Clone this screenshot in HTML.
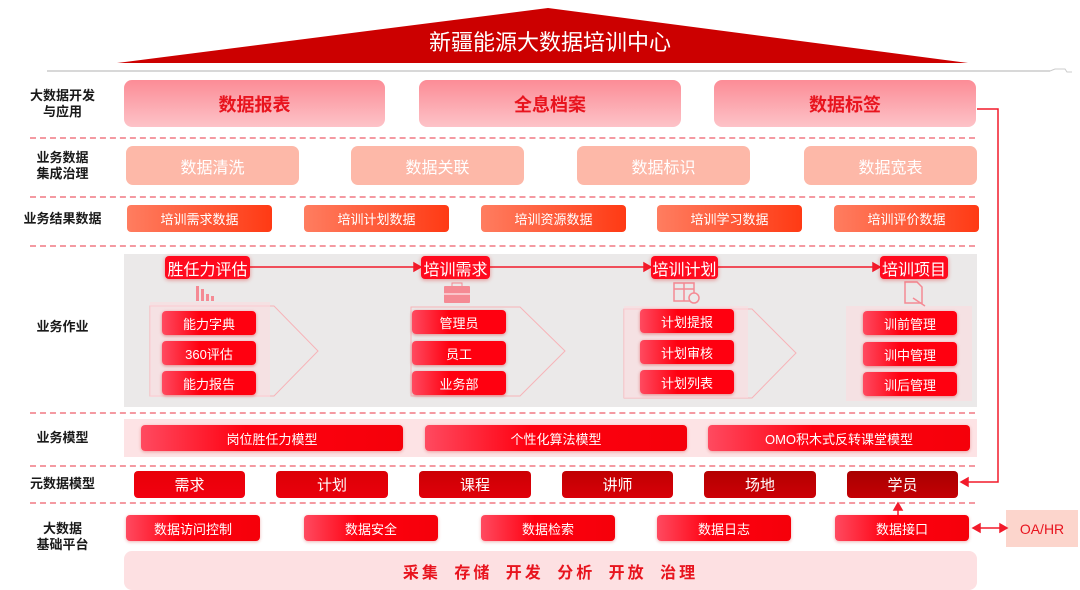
<!DOCTYPE html>
<html><head><meta charset="utf-8"><style>
*{margin:0;padding:0;box-sizing:border-box}
body{width:1080px;height:590px;background:#fff;position:relative;overflow:hidden;font-family:"Liberation Sans","Noto Sans CJK SC",sans-serif}
.a{position:absolute;display:flex;align-items:center;justify-content:center;text-align:center}
.lbl{position:absolute;left:10px;width:105px;font-size:13px;font-weight:bold;color:#1a1a1a;line-height:16px;display:flex;align-items:center;justify-content:center;text-align:center}
.d{position:absolute;left:30px;width:945px;border-top:2px dashed #f49aa2}
.r1{background:linear-gradient(#fc8c96,#fdc3c8);border-radius:8px;color:#e8141e;font-size:18px;font-weight:bold}
.r2{background:#fdb8a8;border-radius:7px;color:#fff;font-size:16px}
.r3{background:linear-gradient(90deg,#ff7d60,#ff3a14);border-radius:4px;color:#fff;font-size:13px}
.rb{background:linear-gradient(90deg,#ff4a60,#ff0010 40%,#f5000a);border-radius:4px;color:#fff;font-size:13px;box-shadow:0 1px 3px rgba(200,0,0,.3)}
.hd{background:#ff0a1e;border-radius:4px;color:#fff;font-size:16px;box-shadow:0 1px 4px rgba(220,0,0,.4)}
.sb{background:linear-gradient(90deg,#ff4a60,#ff0010 40%);border-radius:4px;color:#fff;font-size:13px;box-shadow:0 1px 3px rgba(200,0,0,.4)}
.md{border-radius:4px;color:#fff;font-size:15px}
</style></head><body>
<svg width="1080" height="590" style="position:absolute;left:0;top:0">
<polygon points="117,63 548,8 968,63" fill="#cc0000"/>
<line x1="47" y1="71" x2="1050" y2="71" stroke="#ccc" stroke-width="1.5"/>
<polyline points="1050,71 1055,69 1065,69 1067,72 1072,72" stroke="#ccc" fill="none"/>
<rect x="124" y="254" width="853" height="153" fill="#ebe9e9"/>
<rect x="124" y="419" width="853" height="38" fill="#fde3e5"/>
<rect x="124" y="551" width="853" height="39" rx="8" fill="#fde0e2"/>
<rect x="1006" y="510" width="72" height="37" fill="#fcd5cc"/>
<g fill="none" stroke="#f7b3b8" stroke-width="1">
<polygon points="150,306 274,306 318,351 274,396 150,396"/>
<polygon points="411,307 520,307 565,351 520,396 411,396"/>
<polygon points="624,309 752,309 796,353 752,398 624,398"/>
</g>
<rect x="150" y="302" width="120" height="95" fill="#fcdcdf" opacity=".6"/>
<rect x="624" y="306" width="124" height="92" fill="#fcdcdf" opacity=".6"/>
<rect x="846" y="306" width="126" height="95" fill="#fcdcdf" opacity=".6"/>
<g stroke="#f21a2a" stroke-width="1.5" fill="#f21a2a">
<line x1="250" y1="267" x2="416" y2="267"/><polygon points="421,267 414,263 414,271"/>
<line x1="490" y1="267" x2="646" y2="267"/><polygon points="651,267 644,263 644,271"/>
<line x1="718" y1="267" x2="875" y2="267"/><polygon points="880,267 873,263 873,271"/>
</g>
<g fill="#f58a94">
<rect x="196" y="286" width="3" height="15"/><rect x="201" y="289" width="3" height="12"/><rect x="206" y="294" width="3" height="7"/><rect x="211" y="296" width="3" height="5"/>
<rect x="444" y="286" width="26" height="17" rx="1"/><rect x="452" y="283" width="10" height="4" fill="none" stroke="#f58a94"/>
</g>
<line x1="444" y1="294" x2="470" y2="294" stroke="#fff"/>
<g fill="none" stroke="#f58a94" stroke-width="1.5">
<rect x="674" y="283" width="20" height="18"/><line x1="674" y1="289" x2="694" y2="289"/><line x1="684" y1="283" x2="684" y2="301"/><circle cx="694" cy="298" r="5" fill="#ebe9e9"/>
<path d="M905 282 h12 l5 5 v16 h-17 z"/><line x1="913" y1="298" x2="925" y2="306"/>
</g>
<g stroke="#f21a2a" stroke-width="1.5" fill="#f21a2a">
<polyline points="977,109 998,109 998,482 966,482" fill="none"/><polygon points="961,482 968,478 968,486"/>
<line x1="898" y1="515" x2="898" y2="508"/><polygon points="898,503 894,510 902,510"/>
<line x1="978" y1="528" x2="1003" y2="528"/><polygon points="973,528 980,524 980,532"/><polygon points="1007,528 1000,524 1000,532"/>
</g>
</svg>
<div class="a" style="left:380px;top:26px;width:340px;height:30px;color:#fff;font-size:22px">新疆能源大数据培训中心</div>

<div class="lbl" style="top:88px;height:32px">大数据开发<br>与应用</div>
<div class="lbl" style="top:150px;height:32px">业务数据<br>集成治理</div>
<div class="lbl" style="top:210px;height:18px">业务结果数据</div>
<div class="lbl" style="top:318px;height:18px">业务作业</div>
<div class="lbl" style="top:429px;height:18px">业务模型</div>
<div class="lbl" style="top:475px;height:18px">元数据模型</div>
<div class="lbl" style="top:520px;height:34px">大数据<br>基础平台</div>

<div class="d" style="top:137px"></div><div class="d" style="top:196px"></div><div class="d" style="top:245px"></div>
<div class="d" style="top:412px"></div><div class="d" style="top:465px"></div><div class="d" style="top:502px"></div>

<div class="a r1" style="left:124px;top:80px;width:261px;height:47px">数据报表</div>
<div class="a r1" style="left:419px;top:80px;width:262px;height:47px">全息档案</div>
<div class="a r1" style="left:714px;top:80px;width:262px;height:47px">数据标签</div>

<div class="a r2" style="left:126px;top:146px;width:173px;height:39px">数据清洗</div>
<div class="a r2" style="left:351px;top:146px;width:173px;height:39px">数据关联</div>
<div class="a r2" style="left:577px;top:146px;width:173px;height:39px">数据标识</div>
<div class="a r2" style="left:804px;top:146px;width:173px;height:39px">数据宽表</div>

<div class="a r3" style="left:127px;top:205px;width:145px;height:27px">培训需求数据</div>
<div class="a r3" style="left:304px;top:205px;width:145px;height:27px">培训计划数据</div>
<div class="a r3" style="left:481px;top:205px;width:145px;height:27px">培训资源数据</div>
<div class="a r3" style="left:657px;top:205px;width:145px;height:27px">培训学习数据</div>
<div class="a r3" style="left:834px;top:205px;width:145px;height:27px">培训评价数据</div>

<div class="a hd" style="left:165px;top:256px;width:85px;height:23px">胜任力评估</div>
<div class="a hd" style="left:421px;top:256px;width:69px;height:23px">培训需求</div>
<div class="a hd" style="left:651px;top:256px;width:67px;height:23px">培训计划</div>
<div class="a hd" style="left:880px;top:256px;width:68px;height:23px">培训项目</div>

<div class="a sb" style="left:162px;top:311px;width:94px;height:24px">能力字典</div>
<div class="a sb" style="left:162px;top:341px;width:94px;height:24px">360评估</div>
<div class="a sb" style="left:162px;top:371px;width:94px;height:24px">能力报告</div>
<div class="a sb" style="left:412px;top:310px;width:94px;height:24px">管理员</div>
<div class="a sb" style="left:412px;top:341px;width:94px;height:24px">员工</div>
<div class="a sb" style="left:412px;top:371px;width:94px;height:24px">业务部</div>
<div class="a sb" style="left:640px;top:309px;width:94px;height:24px">计划提报</div>
<div class="a sb" style="left:640px;top:340px;width:94px;height:24px">计划审核</div>
<div class="a sb" style="left:640px;top:370px;width:94px;height:24px">计划列表</div>
<div class="a sb" style="left:863px;top:311px;width:94px;height:24px">训前管理</div>
<div class="a sb" style="left:863px;top:342px;width:94px;height:24px">训中管理</div>
<div class="a sb" style="left:863px;top:372px;width:94px;height:24px">训后管理</div>

<div class="a rb" style="left:141px;top:425px;width:262px;height:26px">岗位胜任力模型</div>
<div class="a rb" style="left:425px;top:425px;width:262px;height:26px">个性化算法模型</div>
<div class="a rb" style="left:708px;top:425px;width:262px;height:26px">OMO积木式反转课堂模型</div>

<div class="a md" style="left:134px;top:471px;width:111px;height:27px;background:linear-gradient(#e80008,#f20010)">需求</div>
<div class="a md" style="left:276px;top:471px;width:112px;height:27px;background:linear-gradient(#dc0006,#ea000c)">计划</div>
<div class="a md" style="left:419px;top:471px;width:112px;height:27px;background:linear-gradient(#cc0004,#e0000a)">课程</div>
<div class="a md" style="left:562px;top:471px;width:111px;height:27px;background:linear-gradient(#c00002,#d80008)">讲师</div>
<div class="a md" style="left:704px;top:471px;width:112px;height:27px;background:linear-gradient(#b40000,#cc0006)">场地</div>
<div class="a md" style="left:847px;top:471px;width:111px;height:27px;background:linear-gradient(#a80000,#c40004)">学员</div>

<div class="a rb" style="left:126px;top:515px;width:134px;height:26px">数据访问控制</div>
<div class="a rb" style="left:304px;top:515px;width:134px;height:26px">数据安全</div>
<div class="a rb" style="left:481px;top:515px;width:134px;height:26px">数据检索</div>
<div class="a rb" style="left:657px;top:515px;width:134px;height:26px">数据日志</div>
<div class="a rb" style="left:835px;top:515px;width:134px;height:26px">数据接口</div>

<div class="a" style="left:124px;top:558px;width:853px;height:26px;color:#e8141e;font-size:16px;font-weight:bold;letter-spacing:3px;word-spacing:6px">采集 存储 开发 分析 开放 治理</div>
<div class="a" style="left:1006px;top:510px;width:72px;height:37px;color:#e8141e;font-size:14px">OA/HR</div>
</body></html>
